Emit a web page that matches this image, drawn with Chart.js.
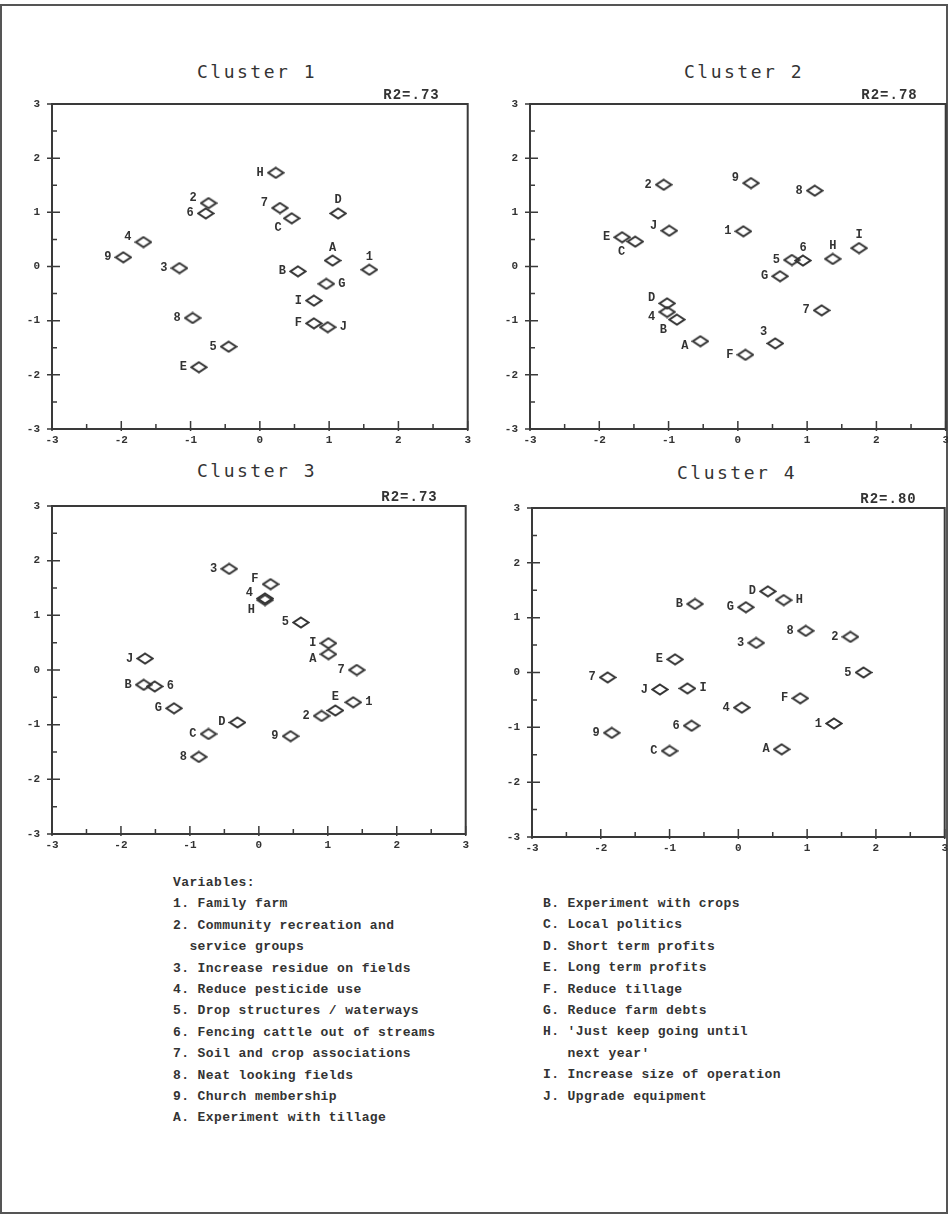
<!DOCTYPE html>
<html>
<head>
<meta charset="utf-8">
<script src="https://cdn.jsdelivr.net/npm/chart.js@4.4.0/dist/chart.umd.min.js"></script>
<style>
  body { margin: 0; width: 948px; height: 1217px; position: relative; overflow: hidden; background: #fff; }
  .frame { position: absolute; left: 0; top: 4px; width: 944px; height: 1206px; border: 2px solid #555; }
  canvas { position: absolute; }
  .title { position: absolute; font: 18px "DejaVu Sans Mono", monospace; letter-spacing: 2.5px; color: #333; line-height: 22px; }
  .legend { position: absolute; font: bold 13px "Liberation Mono", monospace; letter-spacing: 0.4px; color: #333; line-height: 21.4px; white-space: pre; }
</style>
</head>
<body>
<div class="frame"></div>

<div class="title" style="left:197px;top:61px">Cluster 1</div>
<div class="title" style="left:684px;top:61px">Cluster 2</div>
<div class="title" style="left:197px;top:460px">Cluster 3</div>
<div class="title" style="left:677px;top:462px">Cluster 4</div>

<canvas id="c1"></canvas>
<canvas id="c2"></canvas>
<canvas id="c3"></canvas>
<canvas id="c4"></canvas>

<div class="legend" id="legLeft" style="left:173px;top:872px"></div>
<div class="legend" id="legRight" style="left:543px;top:893px"></div>

<script>
// axis ticks (same for every panel)
const xTicks = [-3, -2, -1, 0, 1, 2, 3];
const yTicks = [-3, -2, -1, 0, 1, 2, 3];

// Cluster 1
const labels1 = ["H", "2", "6", "7", "C", "D", "4", "9", "3", "A", "1", "B", "G", "I", "F", "J", "8", "5", "E"];
const x1 = [0.23, -0.74, -0.78, 0.29, 0.46, 1.13, -1.68, -1.97, -1.16, 1.05, 1.58, 0.55, 0.96, 0.78, 0.78, 0.98, -0.97, -0.45, -0.88];
const y1 = [1.73, 1.17, 0.98, 1.08, 0.89, 0.98, 0.45, 0.17, -0.03, 0.11, -0.06, -0.09, -0.32, -0.63, -1.05, -1.12, -0.95, -1.48, -1.86];

// Cluster 2
const labels2 = ["2", "9", "8", "J", "1", "E", "C", "I", "H", "6", "5", "G", "7", "D", "4", "B", "A", "F", "3"];
const x2 = [-1.07, 0.19, 1.11, -0.99, 0.08, -1.67, -1.48, 1.75, 1.37, 0.94, 0.78, 0.61, 1.21, -1.02, -1.02, -0.88, -0.54, 0.11, 0.54];
const y2 = [1.51, 1.54, 1.40, 0.66, 0.65, 0.54, 0.46, 0.34, 0.14, 0.11, 0.12, -0.18, -0.81, -0.68, -0.84, -0.98, -1.38, -1.63, -1.42];

// Cluster 3
const labels3 = ["3", "F", "4", "H", "5", "I", "A", "7", "J", "B", "6", "G", "E", "2", "1", "9", "D", "C", "8"];
const x3 = [-0.43, 0.17, 0.09, 0.09, 0.61, 1.01, 1.01, 1.42, -1.65, -1.67, -1.51, -1.23, 1.11, 0.91, 1.37, 0.46, -0.31, -0.73, -0.87];
const y3 = [1.85, 1.57, 1.31, 1.28, 0.87, 0.49, 0.29, 0.00, 0.21, -0.27, -0.30, -0.70, -0.74, -0.84, -0.59, -1.21, -0.96, -1.17, -1.59];

// Cluster 4
const labels4 = ["D", "H", "B", "G", "8", "2", "3", "E", "5", "7", "J", "I", "F", "4", "1", "6", "9", "C", "A"];
const x4 = [0.43, 0.66, -0.63, 0.11, 0.98, 1.63, 0.26, -0.92, 1.82, -1.90, -1.14, -0.74, 0.90, 0.05, 1.39, -0.68, -1.84, -1.00, 0.63];
const y4 = [1.48, 1.32, 1.25, 1.19, 0.76, 0.65, 0.54, 0.24, 0.00, -0.09, -0.31, -0.29, -0.47, -0.64, -0.93, -0.97, -1.10, -1.43, -1.40];

const r2Values = ["R2=.73", "R2=.78", "R2=.73", "R2=.80"];

// where each point's label sits relative to its marker (style only)
const side1 = ["l", "lu", "l", "lu", "bl", "t", "lu", "l", "l", "t", "t", "l", "r", "l", "l", "r", "l", "l", "l"];
const side2 = ["l", "lu", "l", "lu", "l", "l", "bl", "t", "t", "t", "l", "l", "l", "lu", "ld", "bl", "ld", "l", "tl"];
const side3 = ["l", "lu", "lu", "bl", "l", "l", "ld", "l", "l", "l", "r", "l", "t", "l", "r", "l", "l", "l", "l"];
const side4 = ["l", "r", "l", "l", "l", "l", "l", "l", "l", "l", "l", "r", "l", "l", "l", "l", "l", "l", "l"];

const legendLeft = [
  "Variables:",
  "1. Family farm",
  "2. Community recreation and",
  "  service groups",
  "3. Increase residue on fields",
  "4. Reduce pesticide use",
  "5. Drop structures / waterways",
  "6. Fencing cattle out of streams",
  "7. Soil and crop associations",
  "8. Neat looking fields",
  "9. Church membership",
  "A. Experiment with tillage",
];
const legendRight = [
  "B. Experiment with crops",
  "C. Local politics",
  "D. Short term profits",
  "E. Long term profits",
  "F. Reduce tillage",
  "G. Reduce farm debts",
  "H. 'Just keep going until",
  "   next year'",
  "I. Increase size of operation",
  "J. Upgrade equipment",
];

document.getElementById("legLeft").textContent = legendLeft.join("\n");
document.getElementById("legRight").textContent = legendRight.join("\n");

const INK = "#333";
const tickFont = { family: "Liberation Mono", size: 11, weight: "bold" };

// flattened open diamond, like the plotter marker
function diamond() {
  const c = document.createElement("canvas");
  c.width = 18;
  c.height = 13;
  const g = c.getContext("2d");
  g.strokeStyle = INK;
  g.lineWidth = 2;
  g.beginPath();
  g.moveTo(9, 1.5);
  g.lineTo(16.5, 6.5);
  g.lineTo(9, 11.5);
  g.lineTo(1.5, 6.5);
  g.closePath();
  g.stroke();
  return c;
}
const marker = diamond();

// frame, inward ticks, R2 note and point labels
const decor = {
  id: "decor",
  afterDatasetsDraw(chart, args, opts) {
    const { ctx, chartArea: a, scales } = chart;
    ctx.save();
    ctx.strokeStyle = "#3a3a3a";
    ctx.lineWidth = 2;
    ctx.strokeRect(a.left, a.top, a.right - a.left, a.bottom - a.top);

    ctx.lineWidth = 1.5;
    for (let v = -3; v <= 3; v += 0.5) {
      const major = Number.isInteger(v);
      const px = scales.x.getPixelForValue(v);
      const py = scales.y.getPixelForValue(v);
      ctx.beginPath();
      ctx.moveTo(px, a.bottom + (major ? 2 : 0));
      ctx.lineTo(px, a.bottom - (major ? 8 : 5));
      ctx.moveTo(a.left - (major ? 5 : 0), py);
      ctx.lineTo(a.left + (major ? 8 : 5), py);
      ctx.stroke();
    }

    ctx.fillStyle = INK;
    ctx.font = 'bold 14px "Liberation Mono"';
    ctx.letterSpacing = "1px";
    ctx.textAlign = "right";
    ctx.textBaseline = "bottom";
    ctx.fillText(opts.r2, a.right - 28, a.top - 2);
    ctx.letterSpacing = "0px";

    ctx.font = 'bold 12px "Liberation Mono"';
    const meta = chart.getDatasetMeta(0);
    const data = chart.data.datasets[0].data;
    meta.data.forEach((pt, i) => {
      const s = opts.sides[i];
      let tx = pt.x, ty = pt.y;
      ctx.textBaseline = "middle";
      if (s === "l") { ctx.textAlign = "right"; tx -= 12; }
      else if (s === "lu") { ctx.textAlign = "right"; tx -= 12; ty -= 5; }
      else if (s === "ld") { ctx.textAlign = "right"; tx -= 12; ty += 5; }
      else if (s === "r") { ctx.textAlign = "left"; tx += 12; }
      else if (s === "t") { ctx.textAlign = "center"; ty -= 13; }
      else if (s === "tl") { ctx.textAlign = "right"; tx -= 8; ty -= 11; }
      else if (s === "bl") { ctx.textAlign = "right"; tx -= 10; ty += 10; }
      ctx.fillText(data[i].label, tx, ty);
    });
    ctx.restore();
  },
};

function makePanel(id, labels, xs, ys, sides, r2, box) {
  const canvas = document.getElementById(id);
  const padL = 40, padT = 20, padR = 8, padB = 24;
  canvas.style.left = (box.l - padL) + "px";
  canvas.style.top = (box.t - padT) + "px";
  canvas.width = box.r - box.l + padL + padR;
  canvas.height = box.b - box.t + padT + padB;

  new Chart(canvas, {
    type: "scatter",
    data: {
      datasets: [
        {
          data: xs.map((x, i) => ({ x: x, y: ys[i], label: labels[i] })),
          pointStyle: marker,
          pointRadius: 7,
        },
      ],
    },
    options: {
      responsive: false,
      animation: false,
      layout: { padding: { top: padT, right: padR, bottom: padB - 20, left: 0 } },
      plugins: {
        legend: { display: false },
        tooltip: { enabled: false },
        decor: { r2: r2, sides: sides },
      },
      scales: {
        x: {
          type: "linear",
          min: -3,
          max: 3,
          afterBuildTicks: (s) => { s.ticks = xTicks.map((v) => ({ value: v })); },
          afterFit: (s) => { s.height = 20; },
          ticks: { font: tickFont, color: INK, padding: 5, maxRotation: 0, autoSkip: false },
          grid: { display: false, drawTicks: false },
          border: { display: false },
        },
        y: {
          type: "linear",
          min: -3,
          max: 3,
          afterBuildTicks: (s) => { s.ticks = yTicks.map((v) => ({ value: v })); },
          afterFit: (s) => { s.width = padL; },
          ticks: { font: tickFont, color: INK, padding: 12, autoSkip: false },
          grid: { display: false, drawTicks: false },
          border: { display: false },
        },
      },
    },
    plugins: [decor],
  });
}

makePanel("c1", labels1, x1, y1, side1, r2Values[0], { l: 52, t: 104, r: 468, b: 429 });
makePanel("c2", labels2, x2, y2, side2, r2Values[1], { l: 530, t: 104, r: 946, b: 429 });
makePanel("c3", labels3, x3, y3, side3, r2Values[2], { l: 52, t: 506, r: 466, b: 834 });
makePanel("c4", labels4, x4, y4, side4, r2Values[3], { l: 532, t: 508, r: 945, b: 837 });
</script>
</body>
</html>
